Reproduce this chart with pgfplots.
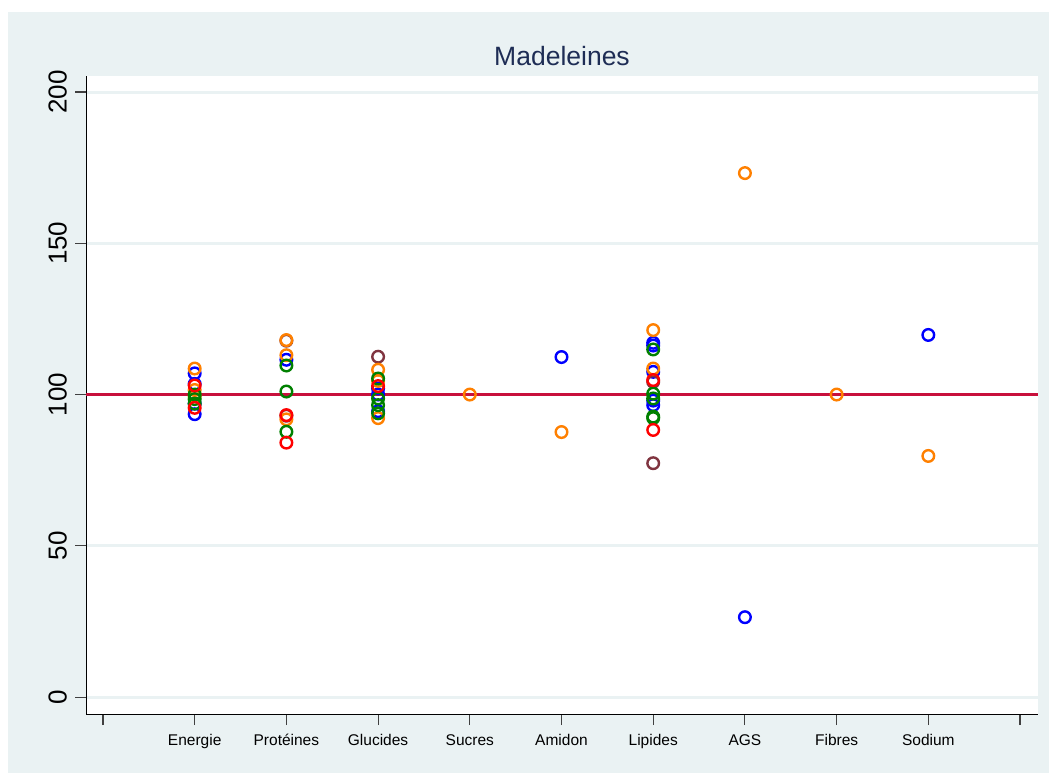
\documentclass[border=0pt]{standalone}
\usepackage{fontspec}
\setmainfont{Liberation Sans}
\usepackage{pgfplots}
\pgfplotsset{compat=1.18}
\definecolor{bgc}{RGB}{234,242,243}
\definecolor{titlec}{RGB}{30,45,85}
\definecolor{refc}{RGB}{200,16,60}
\definecolor{sblue}{RGB}{0,0,255}
\definecolor{sorange}{RGB}{255,128,0}
\definecolor{sgreen}{RGB}{0,128,0}
\definecolor{sred}{RGB}{255,0,0}
\definecolor{smaroon}{RGB}{128,52,64}
\begin{document}
\begin{tikzpicture}[x=1pt,y=1pt]
\fill[white] (0,0) rectangle (1049,774);
\fill[bgc] (8,1) rectangle (1049,762);
\begin{axis}[
    at={(86pt,60pt)}, anchor=south west,
    width=952pt, height=638pt, scale only axis,
    axis background/.style={fill=white},
    xmin=-0.185, xmax=10.196,
    ymin=-5.6, ymax=205.3,
    axis x line*=bottom, axis y line*=left,
    axis line style={black, line width=0.9pt, -},
    xtick={0,1,2,3,4,5,6,7,8,9,10},
    xticklabels={,Energie,Protéines,Glucides,Sucres,Amidon,Lipides,AGS,Fibres,Sodium,},
    ytick={0,50,100,150,200},
    tick align=outside,
    major tick length=11pt,
    tick style={black!75, line width=1.1pt},
    xticklabel style={font=\fontsize{15.5}{18}\selectfont, text height=12pt, text depth=4pt, inner sep=0pt, anchor=north},
    xticklabel shift=8pt,
    yticklabel style={font=\fontsize{26}{30}\selectfont, rotate=90, anchor=south, inner sep=0pt},
    yticklabel shift=8pt,
    /pgf/number format/assume math mode=true,
    ymajorgrids=true,
    grid style={bgc, line width=3pt},
    title={Madeleines},
    title style={font=\fontsize{26.5}{30}\selectfont, text=titlec, anchor=base, at={(0.5,1)}, yshift=4pt},
    clip=false,
    every axis plot/.append style={only marks, mark=o, mark size=5.8pt, line width=2.4pt},
]
\addplot[refc, no marks, only marks=false, sharp plot, line width=2.6pt] coordinates {(-0.185,100)(10.196,100)};
\addplot[sblue] coordinates {
(1,107)(1,103.5)(1,97)(1,93.5)(2,111.5)(3,102)(3,100)(3,94.5)(5,112.4)
(6,117.1)(6,116.2)(6,107.5)(6,96.5)(6,98)(7,26.4)(9,119.7)
};
\addplot[smaroon] coordinates {
(2,117.8)(2,93)(3,112.5)(6,104.2)(6,77.3)
};
\addplot[sorange] coordinates {
(1,108.6)(1,101.5)(1,99.5)(2,118)(2,113)(2,91.8)(3,108.2)(3,104.5)(3,92.2)
(4,100)(5,87.6)(6,121.3)(6,108.6)(7,173.2)(8,100)(9,79.7)
};
\addplot[sgreen] coordinates {
(1,100)(1,98.5)(1,97)(2,109.6)(2,101)(2,87.7)(3,105.3)(3,98.7)(3,96.5)(3,93.8)
(6,114.9)(6,100.3)(6,98.7)(6,92.7)(6,92.2)
};
\addplot[sred] coordinates {
(1,103)(1,95.6)(2,93.2)(2,84.1)(3,102.8)(6,104.8)(6,88.3)
};
\end{axis}
\end{tikzpicture}
\end{document}
